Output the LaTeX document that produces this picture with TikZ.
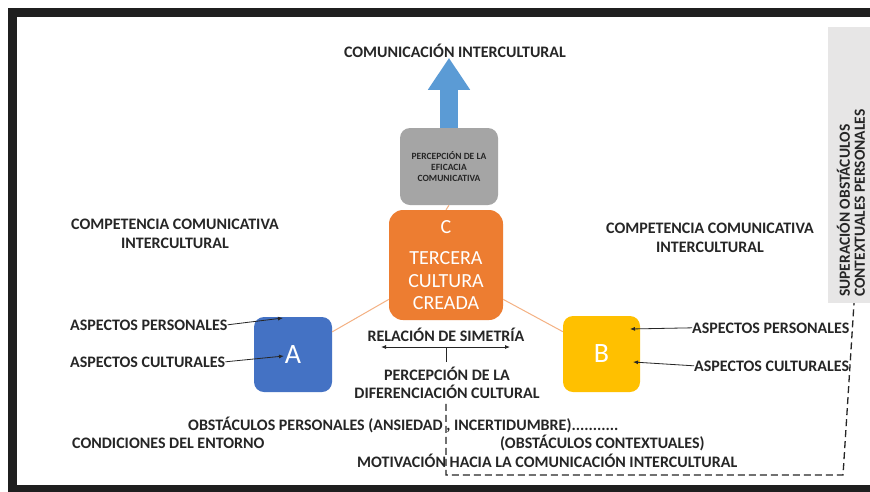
\documentclass[tikz,border=0pt]{standalone}
\usepackage{fontspec}
\setmainfont{Carlito}
\usetikzlibrary{arrows.meta,calc}

\definecolor{texto}{HTML}{262626}
\definecolor{azulA}{HTML}{4472C4}
\definecolor{amarilloB}{HTML}{FFC000}
\definecolor{naranjaC}{HTML}{ED7D31}
\definecolor{naranjaclaro}{HTML}{F4B183}
\definecolor{grisG}{HTML}{A5A5A5}
\definecolor{grisclaro}{HTML}{E7E6E6}
\definecolor{azulflecha}{HTML}{5B9BD5}

\tikzstyle{etiqueta} = [font=\bfseries\fontsize{16}{19}\selectfont, text=texto, inner sep=0pt, align=center]
\tikzstyle{caja} = [rounded corners=10pt, text=white, inner sep=0pt, align=center]
\tikzstyle{flecha} = [draw, color=texto, line width=0.8pt, -{Latex[length=5pt,width=4pt]}]
\tikzstyle{enlace} = [draw, color=naranjaclaro, line width=1pt]
\tikzstyle{discontinua} = [draw, color=texto, line width=1.3pt, dash pattern=on 7pt off 4pt]

\begin{document}
\begin{tikzpicture}[x=1pt,y=-1pt]

	\useasboundingbox (0,0) rectangle (870,491);
	\clip (0,0) rectangle (870,491);
	\fill[white] (0,0) rectangle (870,491);
	\draw[line width=9pt, color=black!88] (12.5,12.5) rectangle (900,489);

	% panel derecho
	\node[fill=grisclaro, minimum width=52pt, minimum height=276pt, inner sep=0pt] (sup) at (854,165) {};
	\node[etiqueta, font=\bfseries\fontsize{15.5}{15}\selectfont, rotate=90, align=left, anchor=west] (suptxt) at (851,297) {SUPERACIÓN OBSTÁCULOS\\CONTEXTUALES PERSONALES};

	% cajas
	\node[caja, fill=grisG, minimum width=98pt, minimum height=77pt, text=texto, font=\bfseries\fontsize{9.5}{11}\selectfont] (g) at (449,166.5) {PERCEPCIÓN DE LA\\EFICACIA\\COMUNICATIVA};
	\node[caja, fill=naranjaC, rounded corners=14pt, minimum width=114pt, minimum height=110pt, font=\fontsize{20}{22.5}\selectfont] (c) at (446,265) {C\\[9pt]TERCERA\\CULTURA\\CREADA};
	\node[caja, fill=azulA, minimum width=78pt, minimum height=75pt, font=\fontsize{28}{30}\selectfont] (a) at (293,354.5) {A};
	\node[caja, fill=amarilloB, minimum width=77pt, minimum height=76pt, font=\fontsize{28}{30}\selectfont] (b) at (601.5,354) {B};

	% textos
	\node[etiqueta, anchor=base] (title) at (455,57.5) {COMUNICACIÓN INTERCULTURAL};
	\node[etiqueta] (compL) at (175,233.5) {COMPETENCIA COMUNICATIVA\\INTERCULTURAL};
	\node[etiqueta] (compR) at (710,238) {COMPETENCIA COMUNICATIVA\\INTERCULTURAL};
	\node[etiqueta, anchor=base west] (apL1) at (70,330) {ASPECTOS PERSONALES};
	\node[etiqueta, anchor=base west] (apL2) at (70,367) {ASPECTOS CULTURALES};
	\node[etiqueta, anchor=base west] (apR1) at (692,333) {ASPECTOS PERSONALES};
	\node[etiqueta, anchor=base west] (apR2) at (694,371) {ASPECTOS CULTURALES};
	\node[etiqueta, anchor=base] (rel) at (446,341) {RELACIÓN DE SIMETRÍA};
	\node[etiqueta, font=\bfseries\fontsize{16}{18}\selectfont] (perc) at (447,383) {PERCEPCIÓN DE LA\\DIFERENCIACIÓN CULTURAL};
	\node[etiqueta, anchor=base west] (obsP) at (188,430) {OBSTÁCULOS PERSONALES (ANSIEDAD , INCERTIDUMBRE)...........};
	\node[etiqueta, anchor=base west] (cond) at (72,448) {CONDICIONES DEL ENTORNO};
	\node[etiqueta, anchor=base west] (obsC) at (500,448) {(OBSTÁCULOS CONTEXTUALES)};
	\node[etiqueta, anchor=base west] (mot) at (357,467) {MOTIVACIÓN HACIA LA COMUNICACIÓN INTERCULTURAL};

	\coordinate (pA1) at (283,318);
	\coordinate (pA2) at (284,356);
	\coordinate (pB1) at (630,329);
	\coordinate (pB2) at (633,362);
	\coordinate (s1) at (381,347);
	\coordinate (s2) at (510,347);
	\coordinate (s3) at (446,362);
	\coordinate (esq) at (843,475);

	% conexiones
	\draw[line width=18pt, color=azulflecha, -{Triangle[width=40pt,length=32pt]}] (g.north) -- (g.north |- title.south);
	\draw[enlace] (g.south) -- (c.north);
	\draw[enlace] (c.211) -- (a.30);
	\draw[enlace] (c.329) -- (b.150);
	\draw[flecha] (apL1.east) -- (pA1);
	\draw[flecha] (apL2.east) -- (pA2);
	\draw[flecha] (apR1.west) -- (pB1);
	\draw[flecha] (apR2.west) -- (pB2);
	\draw[flecha, {Latex[length=5pt,width=4pt]}-{Latex[length=5pt,width=4pt]}] (s1) -- (s2);
	\draw[color=texto, line width=0.8pt] (s3) -- (s3 |- s1);
	\draw[discontinua] ($(perc.south)+(-1,5)$) -- ($(perc.south |- esq)+(-1,0)$) -- (esq) -- (sup.south);

\end{tikzpicture}
\end{document}
